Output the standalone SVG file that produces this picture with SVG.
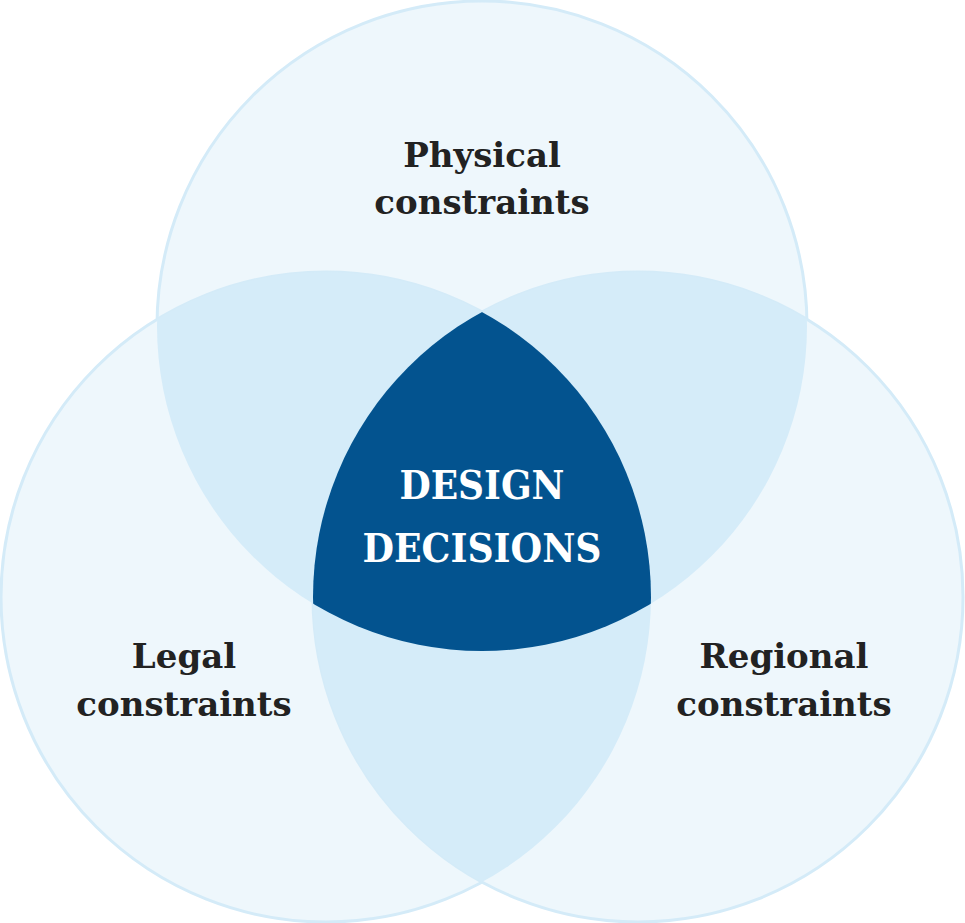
<svg xmlns="http://www.w3.org/2000/svg" width="965" height="923" viewBox="0 0 965 923">
<style>
.circ{fill:#EEF7FC;stroke:#D4EBF8;stroke-width:3}
.ov{fill:#D5ECF9}
.dark{fill:#03538F}
.lbl{font-family:"DejaVu Serif","Liberation Serif",serif;font-weight:bold;font-size:34px;fill:#222222;text-anchor:middle}
.ctr{font-family:"DejaVu Serif","Liberation Serif",serif;font-weight:bold;font-size:40px;fill:#FFFFFF;text-anchor:middle}
</style>
<defs>
<clipPath id="cTop"><circle cx="482" cy="326" r="325"/></clipPath>
<clipPath id="cLeft"><circle cx="326" cy="597" r="325"/></clipPath>
</defs>
<rect width="965" height="923" fill="#FFFFFF"/>
<g id="physical">
<circle class="circ" cx="482" cy="326" r="325"/>
</g>
<g id="legal">
<circle class="circ" cx="326" cy="597" r="325"/>
</g>
<g id="regional">
<circle class="circ" cx="638" cy="597" r="325"/>
</g>
<g id="overlaps">
<g clip-path="url(#cTop)">
<circle class="ov" cx="326" cy="597" r="325"/>
<circle class="ov" cx="638" cy="597" r="325"/>
</g>
<g clip-path="url(#cLeft)">
<circle class="ov" cx="638" cy="597" r="325"/>
</g>
</g>
<g id="design-decisions">
<g clip-path="url(#cTop)"><g clip-path="url(#cLeft)">
<circle class="dark" cx="638" cy="597" r="325"/>
</g></g>
<text class="ctr" x="482" y="499" textLength="165" lengthAdjust="spacingAndGlyphs">DESIGN</text>
<text class="ctr" x="482" y="562" textLength="239" lengthAdjust="spacingAndGlyphs">DECISIONS</text>
</g>
<g id="labels">
<text class="lbl" x="482" y="167">Physical</text>
<text class="lbl" x="482" y="214">constraints</text>
<text class="lbl" x="184" y="668">Legal</text>
<text class="lbl" x="184" y="716">constraints</text>
<text class="lbl" x="784" y="668">Regional</text>
<text class="lbl" x="784" y="716">constraints</text>
</g>
<g id="connectors"/>
</svg>
